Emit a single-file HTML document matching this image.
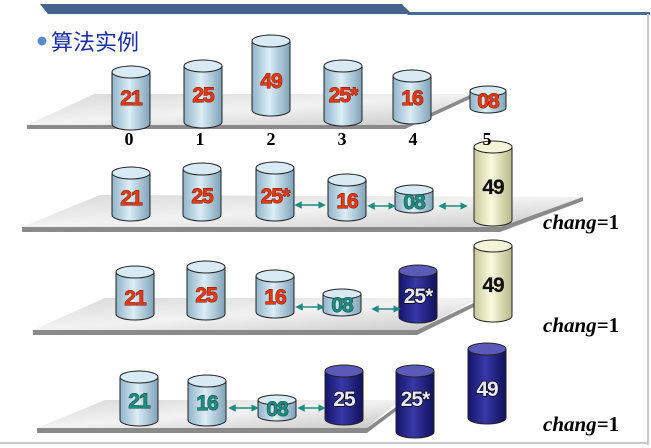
<!DOCTYPE html>
<html><head><meta charset="utf-8"><style>
html,body{margin:0;padding:0;background:#fff;}
svg{display:block;}
.n{font-family:"Liberation Sans",sans-serif;font-weight:bold;font-size:21px;letter-spacing:-1px;text-anchor:middle;stroke-width:0.9px;paint-order:stroke;}
.r{fill:#e8380e;stroke:#6a1000;}
.t{fill:#1e8c80;stroke:#0a3a36;}
.k{fill:#111;stroke:#111;stroke-width:0.2px;}
.w{fill:#e8e8ff;stroke:#000;stroke-width:1.4px;}
.idx{font-family:"Liberation Serif",serif;font-weight:bold;font-size:18px;text-anchor:middle;fill:#000;}
.ch{font-family:"Liberation Serif",serif;font-weight:bold;font-size:21px;fill:#000;}
</style></head><body>
<svg width="651" height="448" viewBox="0 0 651 448" xmlns="http://www.w3.org/2000/svg">
<defs>
<linearGradient id="gb" x1="0" x2="1"><stop offset="0" stop-color="#8fb3c8"/><stop offset="0.45" stop-color="#dcedf6"/><stop offset="1" stop-color="#7fa3b8"/></linearGradient>
<linearGradient id="gy" x1="0" x2="1"><stop offset="0" stop-color="#c8c89a"/><stop offset="0.45" stop-color="#fafae0"/><stop offset="1" stop-color="#b8b88a"/></linearGradient>
<linearGradient id="gn" x1="0" x2="1"><stop offset="0" stop-color="#14146a"/><stop offset="0.45" stop-color="#3838a8"/><stop offset="1" stop-color="#10105a"/></linearGradient>
<linearGradient id="gp" x1="0" y1="0" x2="1" y2="1"><stop offset="0" stop-color="#d8d8d8"/><stop offset="0.5" stop-color="#f2f2f2"/><stop offset="1" stop-color="#c8c8c8"/></linearGradient>
<marker id="ah" viewBox="0 0 6 6" refX="3" refY="3" markerWidth="5" markerHeight="5" orient="auto-start-reverse"><path d="M0,0L6,3L0,6z" fill="#1e8c80"/></marker>
</defs>
<polygon points="40,7 400,7 408,15 650,15 650,12 410,12 405,7" fill="#4a6a98"/>
<polygon points="40,4 402,4 410,14 48,14" fill="#46638f"/>
<line x1="648" y1="14" x2="648" y2="445" stroke="#c8c8c8" stroke-width="2"/>
<line x1="0" y1="443" x2="648" y2="443" stroke="#c8c8c8" stroke-width="2"/>
<circle cx="42" cy="41" r="4.5" fill="#5a8ad0"/>
<text x="51" y="50" font-family="Liberation Sans,'Noto Sans CJK SC',sans-serif" font-size="22" fill="#1a2ea8">算法实例</text>

<polygon points="27,125 405,125 405,129 27,129" fill="#8a8a8a"/>
<polygon points="27,125 94,94 472,94 405,125" fill="url(#gp)"/>
<polygon points="405,125 472,94 472,98 405,129" fill="#8a8a8a"/>

<polygon points="22,227 500,227 500,232 22,232" fill="#8a8a8a"/>
<polygon points="22,227 100,195 583,197 500,227" fill="url(#gp)"/>
<polygon points="500,227 583,197 583,201 500,232" fill="#8a8a8a"/>

<polygon points="33,330 417,330 417,335 33,335" fill="#8a8a8a"/>
<polygon points="33,330 105,298 480,298 417,330" fill="url(#gp)"/>
<polygon points="417,330 480,300 480,304 417,335" fill="#8a8a8a"/>

<polygon points="37,428 367,428 367,433 37,433" fill="#8a8a8a"/>
<polygon points="37,428 105,400 400,400 367,428" fill="url(#gp)"/>
<polygon points="367,428 400,404 400,408 367,433" fill="#8a8a8a"/>

<g stroke="#222" stroke-width="1">
<path d="M112,72 V124 A19,6 0 0 0 150,124 V72" fill="url(#gb)"/><ellipse cx="131" cy="72" rx="19" ry="6" fill="#d8eaf4"/>
<path d="M184,66 V122 A19,6 0 0 0 222,122 V66" fill="url(#gb)"/><ellipse cx="203" cy="66" rx="19" ry="6" fill="#d8eaf4"/>
<path d="M252,41 V110 A19,6 0 0 0 290,110 V41" fill="url(#gb)"/><ellipse cx="271" cy="41" rx="19" ry="6" fill="#d8eaf4"/>
<path d="M324,66 V120 A19,6 0 0 0 362,120 V66" fill="url(#gb)"/><ellipse cx="343" cy="66" rx="19" ry="6" fill="#d8eaf4"/>
<path d="M393,76 V118 A19,6 0 0 0 431,118 V76" fill="url(#gb)"/><ellipse cx="412" cy="76" rx="19" ry="6" fill="#d8eaf4"/>
<path d="M470,91 V108 A18,5 0 0 0 506,108 V91" fill="url(#gb)"/><ellipse cx="488" cy="91" rx="18" ry="5" fill="#d8eaf4"/>
<path d="M112,173 V215 A19,6 0 0 0 150,215 V173" fill="url(#gb)"/><ellipse cx="131" cy="173" rx="19" ry="6" fill="#d8eaf4"/>
<path d="M183,169 V215 A19,6 0 0 0 221,215 V169" fill="url(#gb)"/><ellipse cx="202" cy="169" rx="19" ry="6" fill="#d8eaf4"/>
<path d="M256,168 V215 A19,6 0 0 0 294,215 V168" fill="url(#gb)"/><ellipse cx="275" cy="168" rx="19" ry="6" fill="#d8eaf4"/>
<path d="M328,180 V215 A19,6 0 0 0 366,215 V180" fill="url(#gb)"/><ellipse cx="347" cy="180" rx="19" ry="6" fill="#d8eaf4"/>
<path d="M395,190 V208 A19,5 0 0 0 433,208 V190" fill="url(#gb)"/><ellipse cx="414" cy="190" rx="19" ry="5" fill="#d8eaf4"/>
<path d="M474,147 V220 A19,6 0 0 0 512,220 V147" fill="url(#gy)"/><ellipse cx="493" cy="147" rx="19" ry="6" fill="#f4f4d8"/>
<path d="M116,272 V314 A19,6 0 0 0 154,314 V272" fill="url(#gb)"/><ellipse cx="135" cy="272" rx="19" ry="6" fill="#d8eaf4"/>
<path d="M187,267 V314 A19,6 0 0 0 225,314 V267" fill="url(#gb)"/><ellipse cx="206" cy="267" rx="19" ry="6" fill="#d8eaf4"/>
<path d="M256,276 V312 A19,6 0 0 0 294,312 V276" fill="url(#gb)"/><ellipse cx="275" cy="276" rx="19" ry="6" fill="#d8eaf4"/>
<path d="M323,294 V311 A19,5 0 0 0 361,311 V294" fill="url(#gb)"/><ellipse cx="342" cy="294" rx="19" ry="5" fill="#d8eaf4"/>
<path d="M399,271 V317 A19,6 0 0 0 437,317 V271" fill="url(#gn)"/><ellipse cx="418" cy="271" rx="19" ry="6" fill="#5a5ab8"/>
<path d="M474,246 V316 A19,6 0 0 0 512,316 V246" fill="url(#gy)"/><ellipse cx="493" cy="246" rx="19" ry="6" fill="#f4f4d8"/>
<path d="M120,377 V420 A19,6 0 0 0 158,420 V377" fill="url(#gb)"/><ellipse cx="139" cy="377" rx="19" ry="6" fill="#d8eaf4"/>
<path d="M188,381 V420 A19,6 0 0 0 226,420 V381" fill="url(#gb)"/><ellipse cx="207" cy="381" rx="19" ry="6" fill="#d8eaf4"/>
<path d="M258,400 V416 A19,5 0 0 0 296,416 V400" fill="url(#gb)"/><ellipse cx="277" cy="400" rx="19" ry="5" fill="#d8eaf4"/>
<path d="M325,371 V419 A19,6 0 0 0 363,419 V371" fill="url(#gn)"/><ellipse cx="344" cy="371" rx="19" ry="6" fill="#5a5ab8"/>
<path d="M396,371 V432 A19,6 0 0 0 434,432 V371" fill="url(#gn)"/><ellipse cx="415" cy="371" rx="19" ry="6" fill="#5a5ab8"/>
<path d="M468,349 V418 A19,6 0 0 0 506,418 V349" fill="url(#gn)"/><ellipse cx="487" cy="349" rx="19" ry="6" fill="#5a5ab8"/>
</g>

<g stroke="#1e8c80" stroke-width="1.5" marker-start="url(#ah)" marker-end="url(#ah)">
<line x1="298" y1="205" x2="322" y2="205"/>
<line x1="371" y1="206" x2="392" y2="206"/>
<line x1="442" y1="206" x2="464" y2="206"/>
<line x1="299" y1="307" x2="321" y2="307"/>
<line x1="375" y1="309" x2="397" y2="309"/>
<line x1="232" y1="408" x2="255" y2="408"/>
<line x1="301" y1="408" x2="322" y2="408"/>
</g>

<text class="n r" x="131" y="105">21</text>
<text class="n r" x="203" y="102">25</text>
<text class="n r" x="271" y="88">49</text>
<text class="n r" x="343" y="102">25*</text>
<text class="n r" x="412" y="105">16</text>
<text class="n r" x="488" y="108">08</text>
<g class="idx"><text x="129" y="145">0</text><text x="200" y="145">1</text><text x="271" y="145">2</text><text x="342" y="145">3</text><text x="413" y="145">4</text><text x="487" y="145">5</text></g>

<text class="n r" x="131" y="205">21</text>
<text class="n r" x="202" y="203">25</text>
<text class="n r" x="275" y="203">25*</text>
<text class="n r" x="347" y="208">16</text>
<text class="n t" x="414" y="209">08</text>
<text class="n k" x="493" y="194">49</text>
<text class="ch" x="543" y="229"><tspan font-style="italic">chang</tspan>=1</text>

<text class="n r" x="135" y="305">21</text>
<text class="n r" x="206" y="302">25</text>
<text class="n r" x="275" y="304">16</text>
<text class="n t" x="342" y="312">08</text>
<text class="n w" x="418" y="303">25*</text>
<text class="n k" x="493" y="292">49</text>
<text class="ch" x="543" y="332"><tspan font-style="italic">chang</tspan>=1</text>

<text class="n t" x="139" y="408">21</text>
<text class="n t" x="207" y="410">16</text>
<text class="n t" x="277" y="416">08</text>
<text class="n w" x="344" y="406">25</text>
<text class="n w" x="415" y="406">25*</text>
<text class="n w" x="487" y="396">49</text>
<text class="ch" x="543" y="431"><tspan font-style="italic">chang</tspan>=1</text>
</svg>
</body></html>
